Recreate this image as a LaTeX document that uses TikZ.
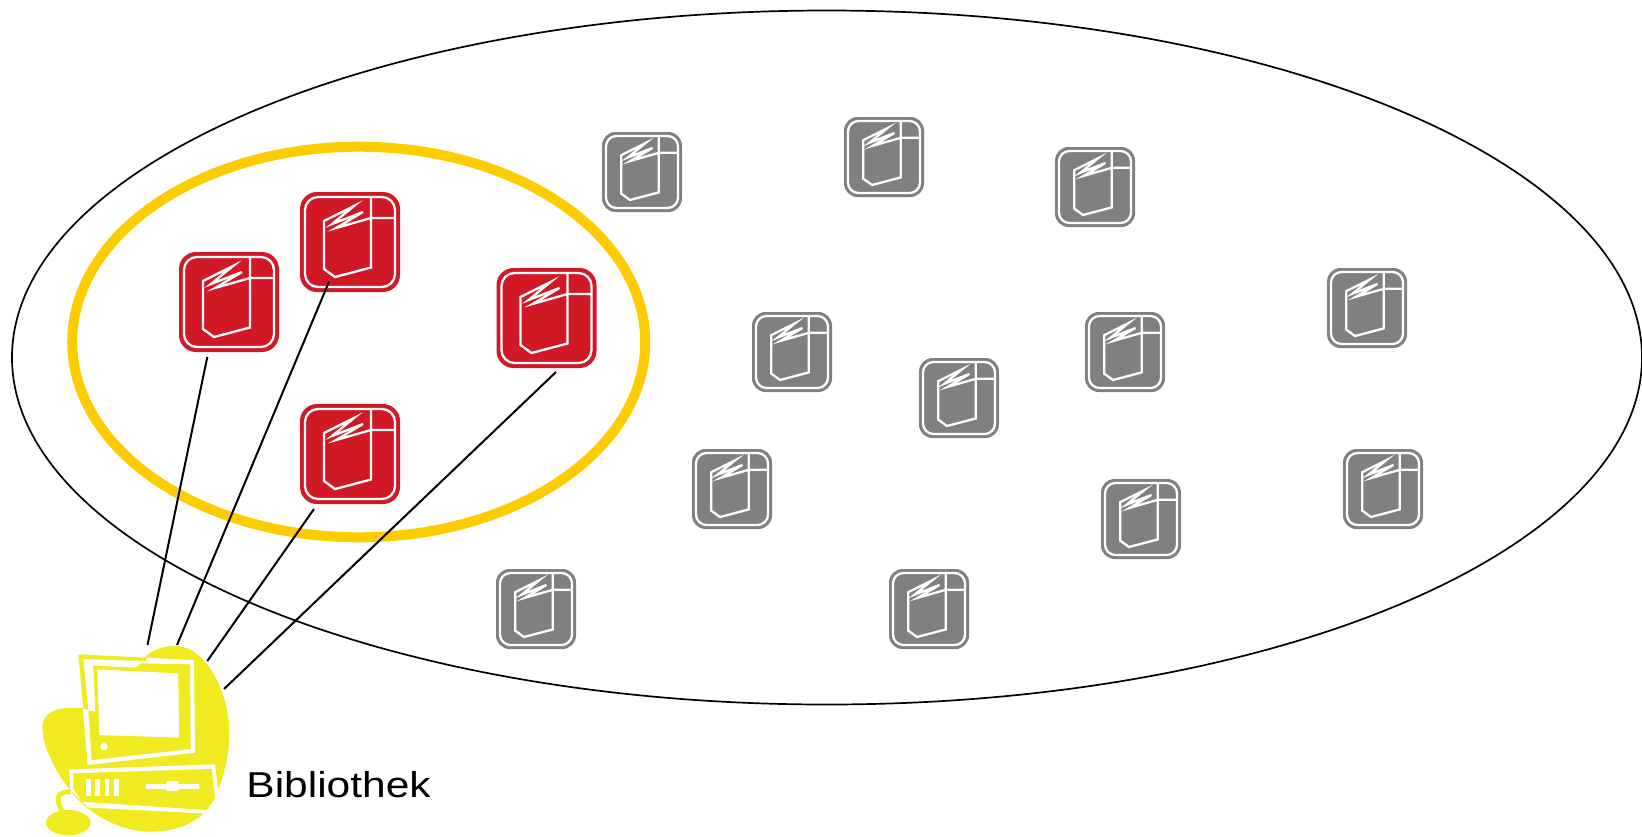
\documentclass[tikz,border=0pt]{standalone}
\usepackage{fontspec}
\usetikzlibrary{shapes.geometric}
\setmainfont{Liberation Sans}
\definecolor{iconred}{HTML}{D11926}
\definecolor{icongray}{HTML}{808080}
\definecolor{blobyellow}{HTML}{F0EA1E}
\definecolor{ringgold}{HTML}{FFCC00}
\tikzset{
  outerring/.style={ellipse,draw=black,line width=0.85pt,inner sep=0pt,outer sep=0pt},
  goldring/.style={ellipse,draw=ringgold,line width=5pt,inner sep=0pt,outer sep=0pt},
  connector/.style={draw=black,line width=1pt},
  bookline/.style={draw=white,line width=1.15pt,line join=miter},
  iconbox/.style={inner sep=0pt,outer sep=0pt,draw=none},
  yfill/.style={fill=blobyellow,draw=none},
  wfill/.style={fill=white,draw=none}
}
% name, x, y, size, colour
\newcommand{\bookicon}[5]{%
  \node[iconbox,fill=#5,minimum size=#4*0.5pt,rounded corners=#4*0.085pt] (#1) at (#2+#4/2,#3+#4/2) {};
  \begin{scope}[shift={(#2,#3)},scale=#4/100]
    \draw[bookline,rounded corners=#4*0.065pt] (5,5) rectangle (95,95);
    \draw[bookline] (71,4) -- (71,75.5) -- (35,85) -- (24,77) -- (24,29) -- (54,14) -- (32,32) -- (63,20) -- (36,36) -- (71,26) -- (95,26);
  \end{scope}}
\begin{document}
\begin{tikzpicture}[x=0.5pt,y=-0.5pt]
\useasboundingbox (0,0) rectangle (1642,836);
\node[outerring,minimum width=815pt,minimum height=347pt] (universe) at (827,357.5) {};
\node[goldring,minimum width=286.5pt,minimum height=195.3pt] (subset) at (358.7,342) {};

\bookicon{g1}{602}{132}{80}{icongray}
\bookicon{g2}{844}{117}{80}{icongray}
\bookicon{g3}{1055}{147}{80}{icongray}
\bookicon{g4}{1327}{268}{80}{icongray}
\bookicon{g5}{752}{312}{80}{icongray}
\bookicon{g6}{1085}{312}{80}{icongray}
\bookicon{g7}{919}{358}{80}{icongray}
\bookicon{g8}{692}{449}{80}{icongray}
\bookicon{g9}{1343}{449}{80}{icongray}
\bookicon{g10}{1101}{479}{80}{icongray}
\bookicon{g11}{496}{569}{80}{icongray}
\bookicon{g12}{889}{569}{80}{icongray}

\bookicon{r1}{179}{252}{100}{iconred}
\bookicon{r2}{300}{192}{100}{iconred}
\bookicon{r3}{496.5}{268}{100}{iconred}
\bookicon{r4}{300}{404}{100}{iconred}

% computer
\begin{scope}[shift={(20,600)},scale=1/3]
  \fill[yfill] (190,325) .. controls (130,320) and (67,325) .. (67,385)
     .. controls (67,440) and (110,520) .. (150,570)
     .. controls (200,640) and (300,695) .. (390,695)
     .. controls (450,695) and (510,680) .. (550,640)
     .. controls (590,600) and (628,500) .. (628,400)
     .. controls (628,280) and (560,138) .. (465,138)
     .. controls (430,138) and (395,150) .. (375,172) -- cycle;
  % monitor
  \fill[wfill] (175,163) -- (522,180) -- (525,458) -- (203,495) -- cycle;
  \fill[yfill] (175,163) -- (382,173) -- (375,183) -- (190,177) -- (205,330) -- (190,325) -- cycle;
  \fill[yfill] (220,197) -- (348,203) -- (365,190) -- (510,193) -- (512,447) -- (215,480) -- (205,332) -- (226,335) -- cycle;
  \fill[wfill] (232,208) -- (475,220) -- (477,413) -- (238,405) -- cycle;
  \fill[wfill] (252,440) circle (11);
  % base unit
  \fill[wfill] (148,508) -- (585,493) -- (595,578) -- (640,610) -- (570,650) -- (550,640) -- (205,623) -- (150,570) -- cycle;
  \fill[yfill] (160,520) -- (575,507) -- (585,595) -- (560,630) -- (185,605) -- (160,565) -- cycle;
  \fill[wfill] (198,537) -- (212,537) -- (212,588) -- (198,588) -- cycle;
  \fill[wfill] (226,537) -- (240,537) -- (240,588) -- (226,588) -- cycle;
  \fill[wfill] (254,537) -- (268,537) -- (268,588) -- (254,588) -- cycle;
  \fill[wfill] (282,537) -- (297,537) -- (297,588) -- (282,588) -- cycle;
  \fill[wfill] (378,552) -- (440,552) -- (440,543) -- (475,543) -- (475,552) -- (538,552) -- (538,567) -- (475,567) -- (475,573) -- (440,573) -- (440,567) -- (378,567) -- cycle;
  % mouse
  \draw[blobyellow,line width=2.4pt] (125,632) .. controls (110,600) and (105,575) .. (152,575);
  \fill[yfill] (145,668) ellipse [x radius=67,y radius=38];
\end{scope}

\node[anchor=base west,inner sep=0pt,font=\fontsize{18}{20}\selectfont,xscale=1.18,transform shape] (biblabel) at (246,797) {Bibliothek};

\coordinate (c1a) at (207.3,357);  \coordinate (c1b) at (147.5,645);
\coordinate (c2a) at (329,281.7);  \coordinate (c2b) at (177,645);
\coordinate (c3a) at (314,509);    \coordinate (c3b) at (207.3,661);
\coordinate (c4a) at (556,372);    \coordinate (c4b) at (224,689);
\draw[connector] (c1a) -- (c1b);
\draw[connector] (c2a) -- (c2b);
\draw[connector] (c3a) -- (c3b);
\draw[connector] (c4a) -- (c4b);
\end{tikzpicture}
\end{document}
